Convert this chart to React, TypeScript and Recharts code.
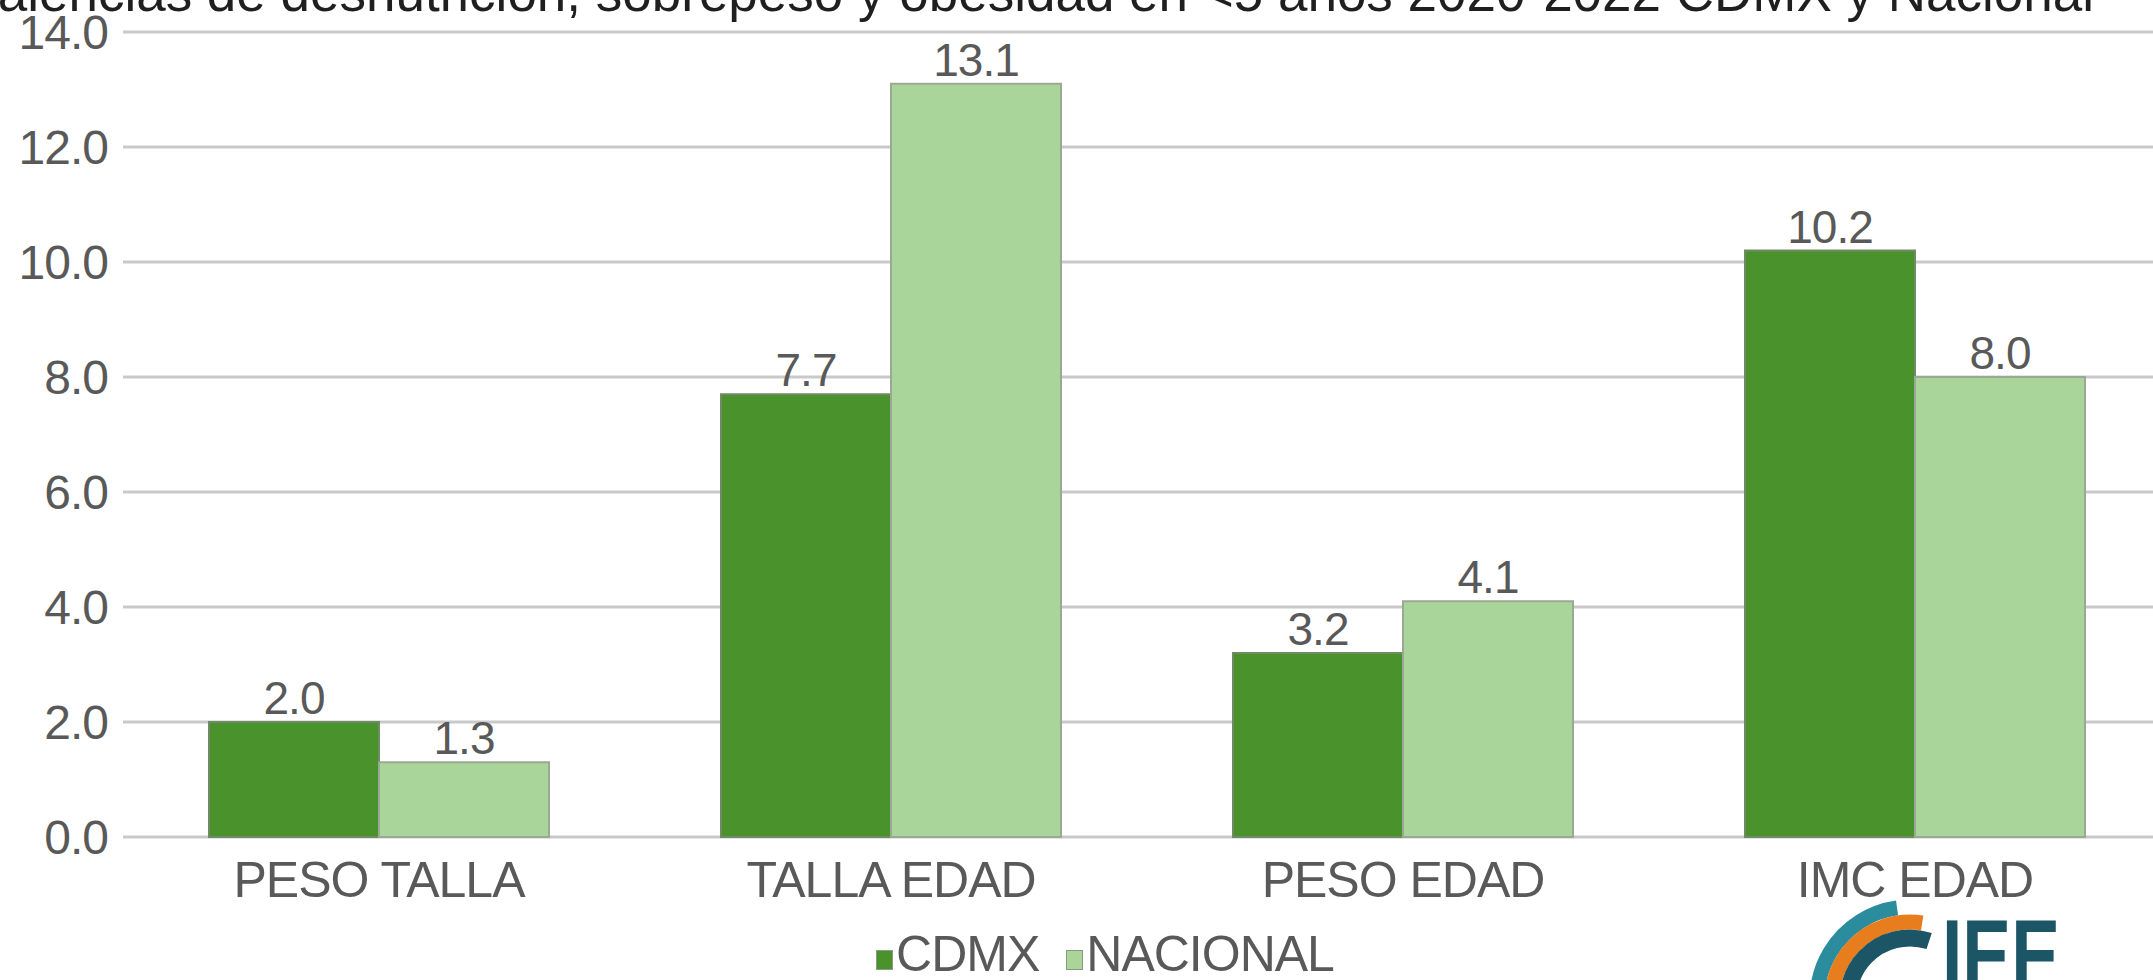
import React from "react";
import {
  BarChart,
  Bar,
  XAxis,
  YAxis,
  CartesianGrid,
  Legend,
  LabelList,
} from "recharts";

const title =
  "Prevalencias de desnutrición, sobrepeso y obesidad en <5 años 2020-2022 CDMX y Nacional";
const categories = ["PESO TALLA", "TALLA EDAD", "PESO EDAD", "IMC EDAD"];
const cdmx = [2.0, 7.7, 3.2, 10.2];
const nacional = [1.3, 13.1, 4.1, 8.0];
const yTicks = [0, 2, 4, 6, 8, 10, 12, 14];
const seriesNames = ["CDMX", "NACIONAL"];

const data = categories.map((name, i) => ({
  name,
  cdmx: cdmx[i],
  nacional: nacional[i],
}));

const textColor = "#595959";
const cdmxColor = "#4a922c";
const nacionalColor = "#a9d49a";
const font = "'Liberation Sans', Arial, sans-serif";

const fmt = (v: any) => Number(v).toFixed(1);

function renderLegend(props: any) {
  const items = props.payload || [];
  return (
    <div
      style={{
        display: "flex",
        justifyContent: "center",
        alignItems: "flex-end",
        paddingTop: 26,
        height: 73,
        boxSizing: "border-box",
        fontFamily: font,
        fontSize: 50,
        letterSpacing: -1,
        lineHeight: "52px",
        color: textColor,
      }}
    >
      {items.map((it: any, i: number) => (
        <div
          key={i}
          style={{ display: "flex", alignItems: "flex-end", marginRight: i === 0 ? 27 : 0 }}
        >
          <span
            style={{
              display: "inline-block",
              width: 15,
              height: 18,
              background: it.color,
              border: "1px solid #8a9a84",
              marginRight: 3,
              marginBottom: 10,
            }}
          />
          <span>{it.value}</span>
        </div>
      ))}
    </div>
  );
}

function arcPath(cx: number, cy: number, r: number, a1: number, a2: number) {
  const p = (a: number) => {
    const rad = (a * Math.PI) / 180;
    return `${cx + r * Math.cos(rad)} ${cy - r * Math.sin(rad)}`;
  };
  return `M ${p(a1)} A ${r} ${r} 0 0 1 ${p(a2)}`;
}

export default function App() {
  return (
    <div
      style={{
        position: "absolute",
        left: 0,
        top: 0,
        width: 2153,
        height: 980,
        overflow: "hidden",
        background: "#fff",
      }}
    >
      <style>{"body{margin:0;overflow:hidden}"}</style>
      <BarChart
        width={2180}
        height={980}
        data={data}
        margin={{ top: 32, right: 9, left: 0, bottom: 0 }}
        barCategoryGap={86}
        barGap={0}
      >
        <CartesianGrid vertical={false} stroke="#c9c9c9" strokeWidth={3} />
        <XAxis
          dataKey="name"
          axisLine={false}
          tickLine={false}
          tickSize={0}
          tickMargin={24}
          height={70}
          interval={0}
          tick={{ fill: textColor, fontSize: 50, letterSpacing: -1, fontFamily: font }}
        />
        <YAxis
          domain={[0, 14]}
          ticks={yTicks}
          tickFormatter={fmt}
          axisLine={false}
          tickLine={false}
          tickSize={0}
          tickMargin={15}
          width={123}
          tick={{ fill: textColor, fontSize: 48, letterSpacing: -1, fontFamily: font }}
        />
        <Legend
          verticalAlign="bottom"
          height={73}
          content={renderLegend}
          wrapperStyle={{ left: 0, width: 2210, top: 907 }}
        />
        <Bar
          dataKey="cdmx"
          name={seriesNames[0]}
          fill={cdmxColor}
          stroke="#6f8a64"
          strokeWidth={2}
          isAnimationActive={false}
        >
          <LabelList
            dataKey="cdmx"
            position="top"
            offset={8}
            formatter={fmt}
            style={{ fill: textColor, fontSize: 46, letterSpacing: -1, fontFamily: font }}
          />
        </Bar>
        <Bar
          dataKey="nacional"
          name={seriesNames[1]}
          fill={nacionalColor}
          stroke="#9aa894"
          strokeWidth={2}
          isAnimationActive={false}
        >
          <LabelList
            dataKey="nacional"
            position="top"
            offset={8}
            formatter={fmt}
            style={{ fill: textColor, fontSize: 46, letterSpacing: -1, fontFamily: font }}
          />
        </Bar>
      </BarChart>
      <svg
        width={2153}
        height={980}
        style={{ position: "absolute", left: 0, top: 0, pointerEvents: "none" }}
      >
        <text
          x={2094}
          y={11}
          textAnchor="end"
          fontSize={53}
          fill="#1f1f1f"
          fontFamily={font}
        >
          {title}
        </text>
        <g fill="none">
          <path d={arcPath(1910, 1000, 93, 200, 98)} stroke="#2b8c9e" strokeWidth={15} />
          <path d={arcPath(1910, 1000, 78, 200, 81)} stroke="#e87d1e" strokeWidth={15} />
          <path d={arcPath(1910, 1000, 62, 200, 72)} stroke="#1c5666" strokeWidth={17} />
        </g>
        <text
          x={1942}
          y={992}
          fontSize={104}
          fontWeight="bold"
          fill="#1c5666"
          textLength={118}
          lengthAdjust="spacingAndGlyphs"
          fontFamily={font}
        >
          IEE
        </text>
      </svg>
    </div>
  );
}
